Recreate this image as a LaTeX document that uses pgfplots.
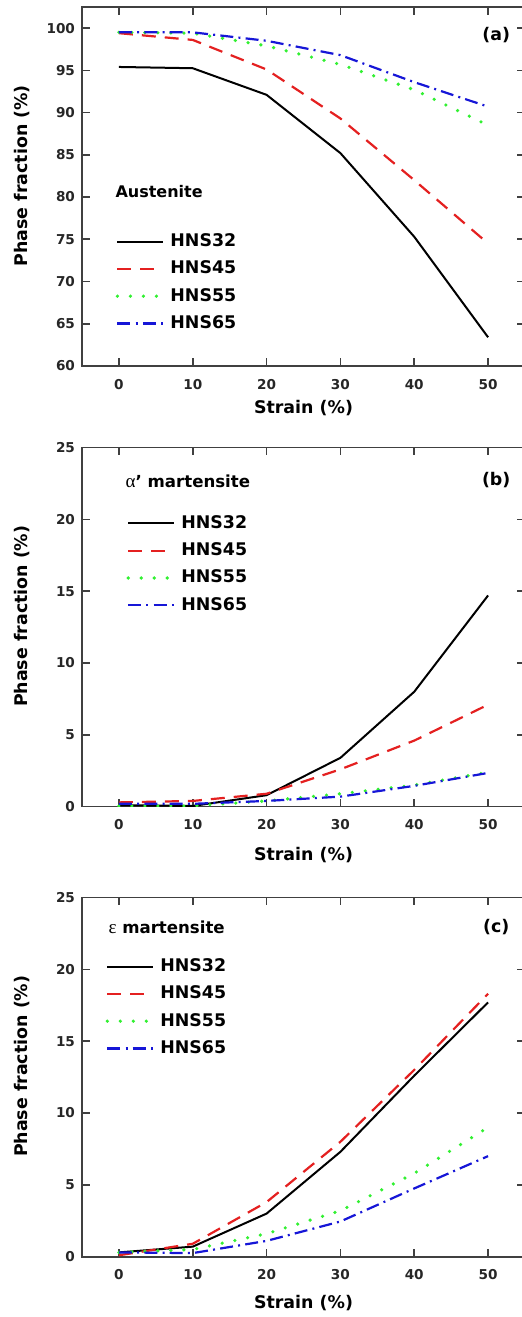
\documentclass[border=0pt]{standalone}
\usepackage{fontspec}
\setmainfont{DejaVu Sans}
\newfontfamily\grk{Liberation Serif}
\usepackage{pgfplots}
\pgfplotsset{compat=1.18}

\definecolor{cRed}{RGB}{228,32,32}
\definecolor{cGreen}{RGB}{50,240,50}
\definecolor{cBlue}{RGB}{22,22,215}

\pgfplotsset{
  s32/.style={black, line width=1pt},
  s45/.style={cRed, line width=1.1pt, dash pattern=on 7pt off 4.5pt},
  s55/.style={cGreen, line width=1.8pt, line cap=round, dash pattern=on 0pt off 6.5pt},
  s65/.style={cBlue, line width=1.1pt, dash pattern=on 6.5pt off 2.6pt on 1pt off 2.6pt},
  panel/.style={
    scale only axis, width=221.5pt, height=179.6pt,
    xmin=-5, xmax=55, xtick={0,10,...,50},
    tick align=inside, major tick length=4pt,
    axis line style={black!75, line width=0.8pt},
    tick style={black!75, line width=0.8pt},
    /pgf/number format/assume math mode=true,
    ticklabel style={font=\fontsize{6.8}{7}\selectfont\bfseries, black!85},
    xticklabel style={yshift=-3pt},
    label style={font=\fontsize{8.7}{10}\selectfont\bfseries},
    xlabel={Strain (\%)}, ylabel={Phase fraction (\%)},
    ylabel style={at={(axis description cs:-0.135,0.53)}, anchor=center, rotate=0},
    legend cell align=left,
    legend image code/.code={\draw[##1] (0pt,0pt) -- (23pt,0pt);},
    legend style={draw=none, fill=none, inner sep=0pt, row sep=5.7pt,
      font=\fontsize{8.7}{10}\selectfont\bfseries,
      nodes={inner sep=0pt},
      /tikz/every odd column/.append style={column sep=2.6pt}},
  },
}

\begin{document}
\begin{tikzpicture}
\useasboundingbox (0,0) rectangle (261pt,658.5pt);

% (a) austenite
\begin{axis}[panel, at={(41pt,475.5pt)}, anchor=south west, height=179.5pt,
  ymin=60, ymax=102.5, ytick={60,65,...,100},
  xlabel style={at={(axis description cs:0.5,-0.118)}, anchor=center},
  legend style={at={(axis description cs:0.0750,0.370)}, anchor=north west}]
\addplot[s32] coordinates {(0,95.4) (10,95.25) (20,92.1) (30,85.2) (40,75.3) (50,63.4)};
\addplot[s45] coordinates {(0,99.4) (10,98.6) (20,95.1) (30,89.3) (40,82.0) (50,74.5)};
\addplot[s55] coordinates {(0,99.5) (10,99.4) (20,97.9) (30,95.7) (40,92.7) (50,88.5)};
\addplot[s65] coordinates {(0,99.5) (10,99.5) (20,98.5) (30,96.8) (40,93.6) (50,90.7)};
\legend{HNS32,HNS45,HNS55,HNS65}
\node[anchor=west, font=\fontsize{8}{9}\selectfont\bfseries, inner sep=0pt] at (axis description cs:0.0748,0.485) {Austenite};
\node[font=\fontsize{8.7}{10}\selectfont\bfseries, inner sep=0pt] at (axis description cs:0.935,0.922) {(a)};
\end{axis}

% (b) alpha' martensite
\begin{axis}[panel, at={(41pt,255.15pt)}, anchor=south west,
  ymin=0, ymax=25, ytick={0,5,...,25},
  xlabel style={at={(axis description cs:0.5,-0.134)}, anchor=center},
  legend style={at={(axis description cs:0.0995,0.812)}, anchor=north west}]
\addplot[s32] coordinates {(0,0.1) (10,0.05) (20,0.8) (30,3.4) (40,8.0) (50,14.7)};
\addplot[s45] coordinates {(0,0.3) (10,0.4) (20,0.9) (30,2.6) (40,4.6) (50,7.1)};
\addplot[s55] coordinates {(0,0.05) (10,0.05) (20,0.4) (30,0.9) (40,1.5) (50,2.4)};
\addplot[s65] coordinates {(0,0.2) (10,0.2) (20,0.4) (30,0.7) (40,1.45) (50,2.35)};
\legend{HNS32,HNS45,HNS55,HNS65}
\node[anchor=west, font=\fontsize{8.3}{9}\selectfont\bfseries, inner sep=0pt] at (axis description cs:0.0975,0.906) {{\grk\mdseries\fontsize{9.5}{10}\selectfont α}’ martensite};
\node[font=\fontsize{8.7}{10}\selectfont\bfseries, inner sep=0pt] at (axis description cs:0.935,0.909) {(b)};
\end{axis}

% (c) epsilon martensite
\begin{axis}[panel, at={(41pt,30.15pt)}, anchor=south west,
  ymin=0, ymax=25, ytick={0,5,...,25},
  xlabel style={at={(axis description cs:0.5,-0.129)}, anchor=center},
  legend style={at={(axis description cs:0.0522,0.831)}, anchor=north west}]
\addplot[s32] coordinates {(0,0.3) (10,0.7) (20,3.0) (30,7.3) (40,12.6) (50,17.7)};
\addplot[s45] coordinates {(0,0.1) (10,0.9) (20,3.8) (30,8.0) (40,13.0) (50,18.3)};
\addplot[s55] coordinates {(0,0.3) (10,0.5) (20,1.6) (30,3.2) (40,5.8) (50,9.0)};
\addplot[s65] coordinates {(0,0.3) (10,0.25) (20,1.1) (30,2.45) (40,4.75) (50,7.0)};
\legend{HNS32,HNS45,HNS55,HNS65}
\node[anchor=west, font=\fontsize{8.3}{9}\selectfont\bfseries, inner sep=0pt] at (axis description cs:0.059,0.917) {{\grk\mdseries\fontsize{9.5}{10}\selectfont ε} martensite};
\node[font=\fontsize{8.7}{10}\selectfont\bfseries, inner sep=0pt] at (axis description cs:0.935,0.917) {(c)};
\end{axis}
\end{tikzpicture}
\end{document}
